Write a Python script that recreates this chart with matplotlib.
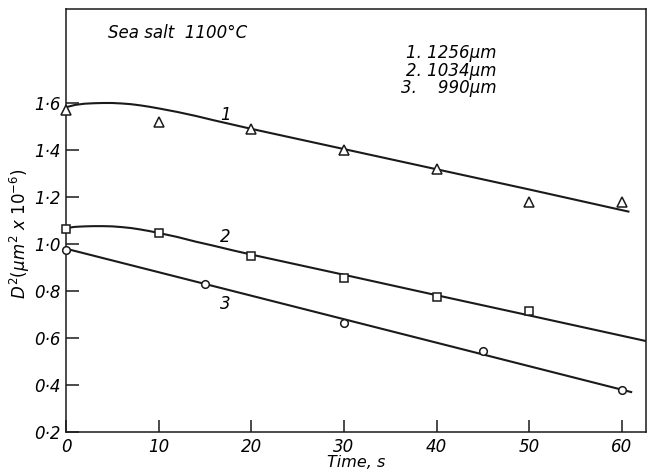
import matplotlib
matplotlib.use("Agg")
import matplotlib.pyplot as plt

# measured points
t1 = [0, 10, 20, 30, 40, 50, 60]
d1 = [1.57, 1.52, 1.49, 1.40, 1.32, 1.18, 1.18]
t2 = [0, 10, 20, 30, 40, 50]
d2 = [1.065, 1.047, 0.95, 0.857, 0.776, 0.715]
t3 = [0, 15, 30, 45, 60]
d3 = [0.975, 0.828, 0.664, 0.545, 0.38]

# fitted curves
c1_t = [0, 1, 2, 3, 4, 5, 6, 7, 8, 9, 10, 12, 14, 16, 18, 20, 30, 40, 50, 60.7]
c1_d = [1.582, 1.592, 1.597, 1.599, 1.600, 1.600, 1.598, 1.595, 1.590, 1.584, 1.577,
        1.562, 1.545, 1.526, 1.508, 1.490, 1.404, 1.318, 1.232, 1.138]
c2_t = [0, 1, 2, 3, 4, 5, 6, 7, 8, 9, 10, 12, 14, 16, 18, 20, 30, 40, 50, 62.6]
c2_d = [1.068, 1.073, 1.075, 1.076, 1.076, 1.075, 1.072, 1.068, 1.062, 1.055, 1.047,
        1.030, 1.010, 0.992, 0.973, 0.955, 0.869, 0.782, 0.696, 0.587]
c3_t = [0, 61]
c3_d = [0.98, 0.37]

xticks = [0, 10, 20, 30, 40, 50, 60]
xticklabels = ["0", "10", "20", "30", "40", "50", "60"]
yticks = [0.2, 0.4, 0.6, 0.8, 1.0, 1.2, 1.4, 1.6]
yticklabels = ["0·2", "0·4", "0·6", "0·8", "1·0", "1·2", "1·4", "1·6"]

plt.rcParams['font.family'] = ['DejaVu Sans']
plt.rcParams['mathtext.fontset'] = 'dejavusans'

fig = plt.figure(figsize=(6.53, 4.73), dpi=100)
ax = fig.add_axes([66/653, 41/473, 580/653, 423/473])

lc = '#1a1a1a'
ax.plot(c1_t, c1_d, color=lc, lw=1.5)
ax.plot(c2_t, c2_d, color=lc, lw=1.5)
ax.plot(c3_t, c3_d, color=lc, lw=1.5)

ax.plot(t1, d1, ls='none', marker='^', ms=6.5, mfc='white', mec=lc, mew=1.1, clip_on=False, zorder=5)
ax.plot(t2, d2, ls='none', marker='s', ms=5.5, mfc='white', mec=lc, mew=1.1, clip_on=False, zorder=5)
ax.plot(t3, d3, ls='none', marker='o', ms=5.5, mfc='white', mec=lc, mew=1.1, clip_on=False, zorder=5)

ax.set_xlim(0, 62.6)
ax.set_ylim(0.2, 2.0)
ax.set_xticks(xticks)
ax.set_xticklabels(xticklabels, fontstyle='italic', fontsize=12)
ax.set_yticks(yticks)
ax.set_yticklabels(yticklabels, fontstyle='italic', fontsize=12)
ax.tick_params(direction='in', length=9, width=1.1, color=lc, pad=4)
for s in ax.spines.values():
    s.set_linewidth(1.1)
    s.set_color(lc)

ax.text(17.2, 1.55, "1", fontsize=12, style='italic', ha='center', va='center')
ax.text(17.2, 1.03, "2", fontsize=12, style='italic', ha='center', va='center')
ax.text(17.2, 0.745, "3", fontsize=12, style='italic', ha='center', va='center')

ax.text(4.5, 1.898, "Sea salt  1100°C", fontsize=12, style='italic', ha='left', va='center')
ax.text(46.5, 1.813, "1. 1256μm", fontsize=12, style='italic', ha='right', va='center')
ax.text(46.5, 1.736, "2. 1034μm", fontsize=12, style='italic', ha='right', va='center')
ax.text(46.5, 1.664, "3.    990μm", fontsize=12, style='italic', ha='right', va='center')

fig.text(356/653, (473-462)/473, "Time, s", fontsize=11.5, style='italic', ha='center', va='center')
fig.text(20/653, (473-234)/473, r"$D^2(\mu m^2\ $x$\ 10^{-6})$", fontsize=12,
         rotation=90, ha='center', va='center', style='italic')

fig.savefig("out.png", dpi=100)
